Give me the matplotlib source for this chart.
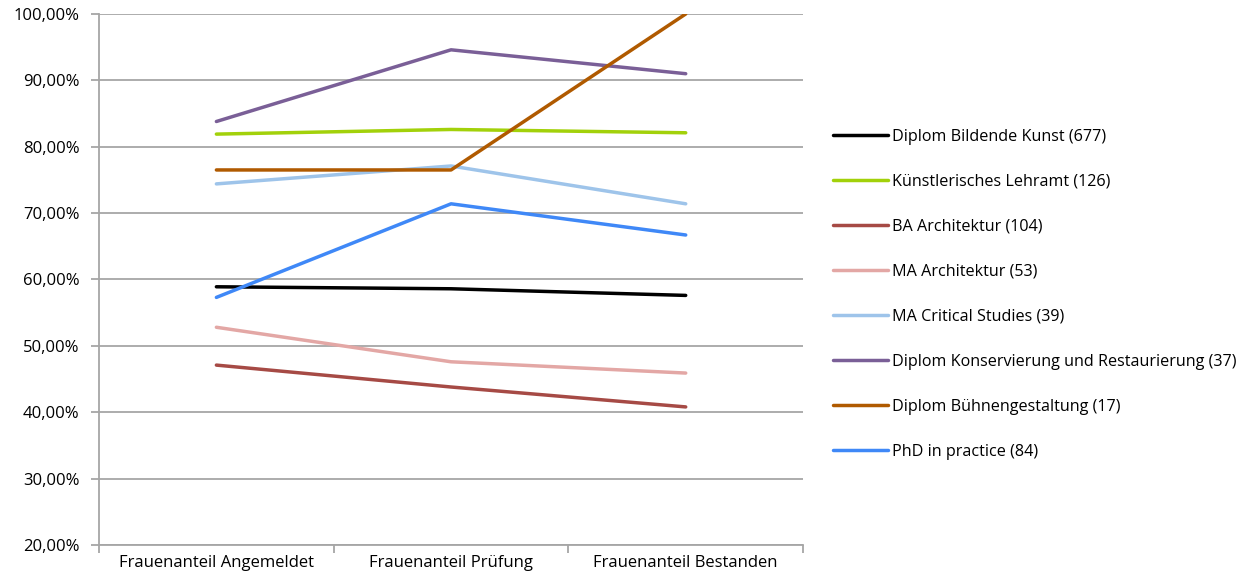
import matplotlib
matplotlib.use("Agg")
import matplotlib.pyplot as plt
from matplotlib.ticker import FuncFormatter, MultipleLocator, FixedLocator

plt.rcParams['font.family'] = ['Open Sans', 'DejaVu Sans']

# categories on the x axis
stages = ["Frauenanteil Angemeldet", "Frauenanteil Prüfung", "Frauenanteil Bestanden"]

# share of women in percent, one list per programme
diplom_bildende_kunst = [58.9, 58.6, 57.6]
kuenstlerisches_lehramt = [81.9, 82.6, 82.1]
ba_architektur = [47.1, 43.8, 40.8]
ma_architektur = [52.8, 47.6, 45.9]
ma_critical_studies = [74.4, 77.1, 71.4]
diplom_konservierung = [83.8, 94.6, 91.0]
diplom_buehne = [76.5, 76.5, 100.0]
phd_in_practice = [57.3, 71.4, 66.7]

labels = ["Diplom Bildende Kunst (677)", "Künstlerisches Lehramt (126)",
          "BA Architektur (104)", "MA Architektur (53)", "MA Critical Studies (39)",
          "Diplom Konservierung und Restaurierung (37)", "Diplom Bühnengestaltung (17)",
          "PhD in practice (84)"]
series = [diplom_bildende_kunst, kuenstlerisches_lehramt, ba_architektur, ma_architektur,
          ma_critical_studies, diplom_konservierung, diplom_buehne, phd_in_practice]
colors = ["#000000", "#a2d10a", "#a64a45", "#e3a7a5", "#9ec4ea",
          "#7a5f97", "#b05a00", "#3f88f7"]

fig = plt.figure(figsize=(12.46, 5.82), dpi=100)
ax = fig.add_axes([0.0795, 0.0636, 0.565, 0.9124])

x = list(range(len(stages)))
for vals, lab, col in zip(series, labels, colors):
    ax.plot(x, vals, color=col, lw=2.5, label=lab, solid_capstyle='round')

grid_col = "#a6a6a6"
ax.set_ylim(20, 100)
ax.set_xlim(-0.5, 2.5)
ax.yaxis.set_major_locator(MultipleLocator(10))
ax.yaxis.set_major_formatter(FuncFormatter(lambda v, p: f"{v:.2f}%".replace(".", ",")))
ax.grid(axis='y', color=grid_col, lw=1.3)
ax.set_axisbelow(True)

ax.xaxis.set_major_locator(FixedLocator(x))
ax.set_xticklabels(stages)
ax.xaxis.set_minor_locator(FixedLocator([-0.5, 0.5, 1.5, 2.5]))
ax.tick_params(axis='x', which='major', length=0, pad=7, labelsize=12)
ax.tick_params(axis='x', which='minor', length=6, width=1.3, color=grid_col, direction='out')
ax.tick_params(axis='y', length=6, width=1.3, color=grid_col, pad=8, labelsize=12)

for s in ['top', 'right']:
    ax.spines[s].set_visible(False)
for s in ['left', 'bottom']:
    ax.spines[s].set_color(grid_col)
    ax.spines[s].set_linewidth(1.3)

fig.legend(loc='center left', bbox_to_anchor=(0.657, 0.494), frameon=False,
           fontsize=11.6, handlelength=3.4, handletextpad=0.25, labelspacing=1.8)

fig.savefig("out.png", dpi=100)
